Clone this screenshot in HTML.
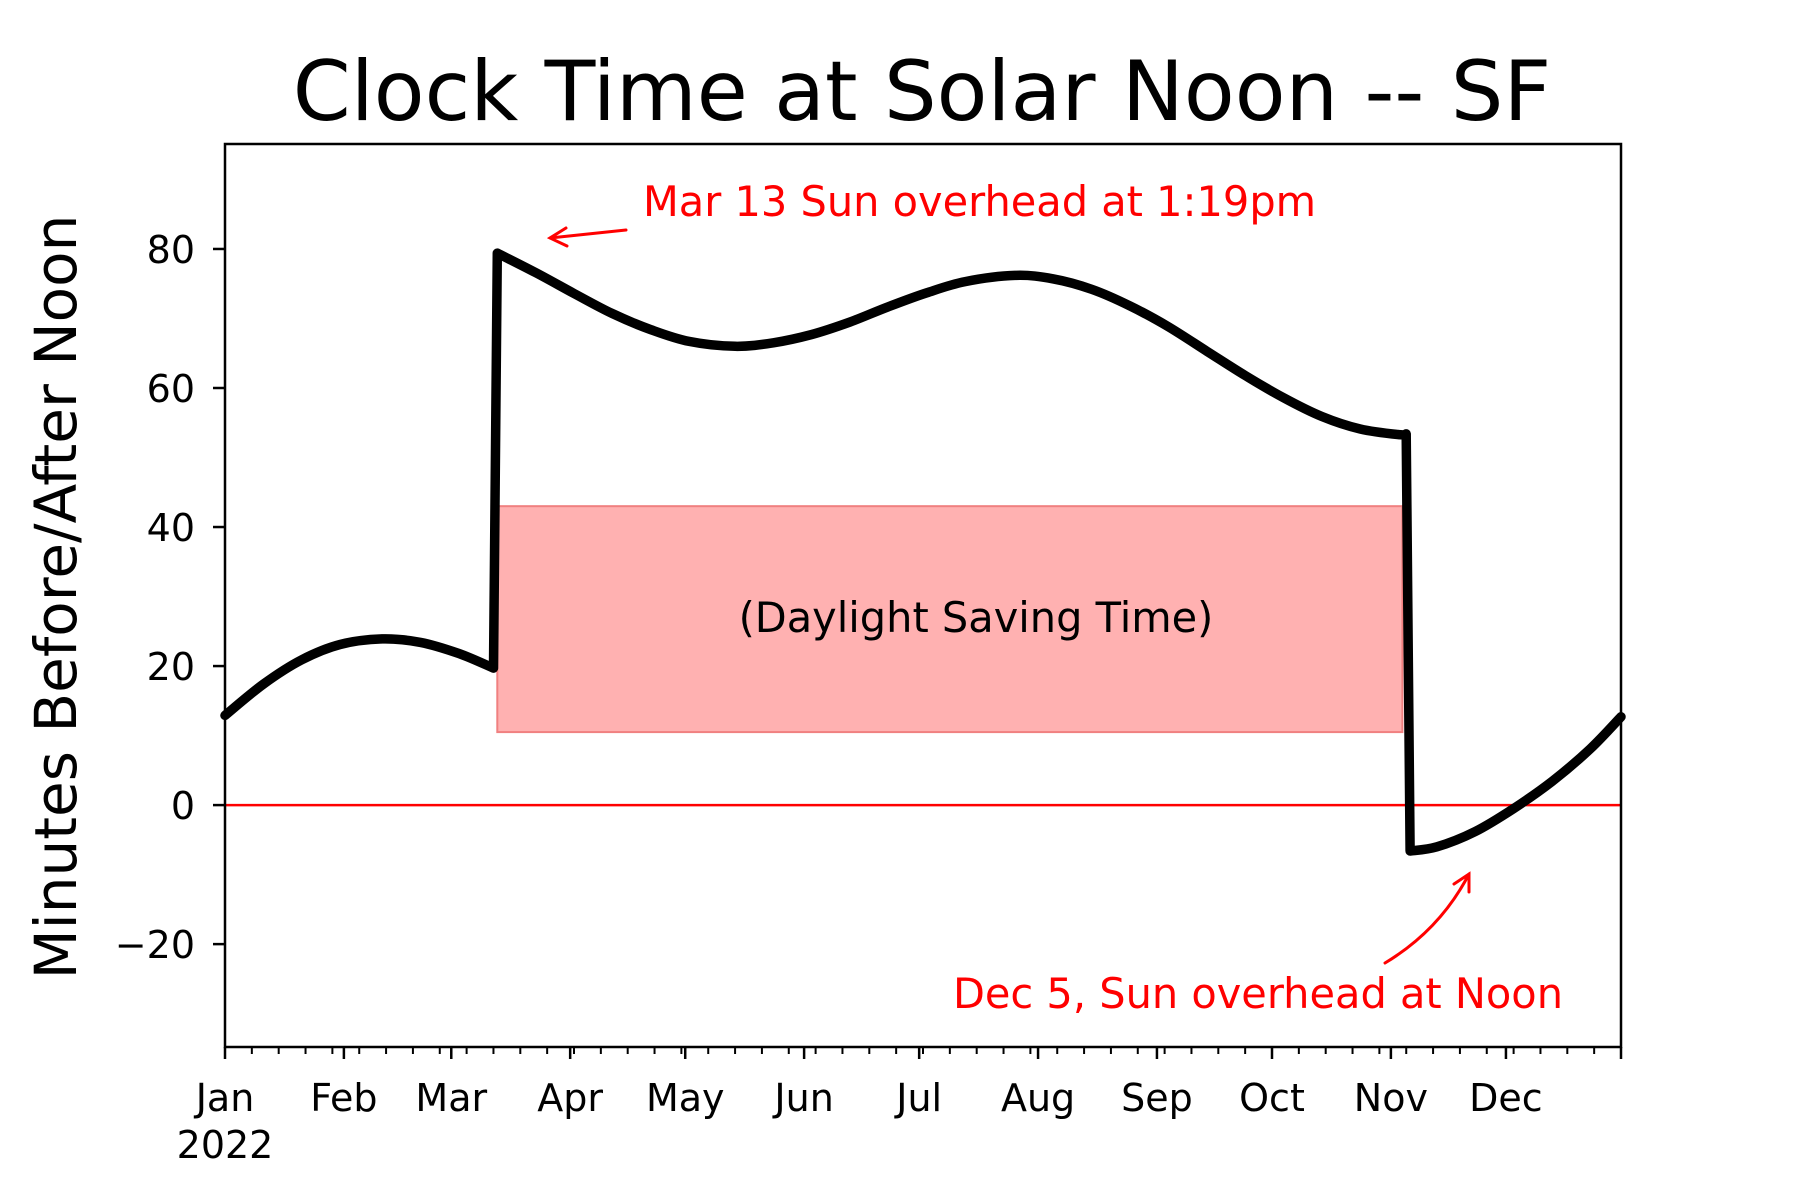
<!DOCTYPE html>
<html><head><meta charset="utf-8"><style>
html,body{margin:0;padding:0;background:#fff}
svg{display:block;font-family:"DejaVu Sans","Liberation Sans",sans-serif}
</style></head><body>
<svg id="chart" width="1800" height="1200" viewBox="0 0 1800 1200">
<text x="922" y="120" font-size="83" text-anchor="middle">Clock Time at Solar Noon -- SF</text>
<text transform="translate(76,597) rotate(-90)" font-size="58" text-anchor="middle">Minutes Before/After Noon</text>
<g id="plot"></g>
</svg>
<script>
const days = [0,10,20,30,41,51,61,70,71,81,91,101,111,121,133,143,153,163,173,183,193,206,216,226,236,246,256,266,276,286,296,306,308,309,316,326,336,346,356,364];
const minutes = [12.9,17.4,20.9,23.1,23.9,23.4,21.8,19.7,79.4,76.6,73.6,70.7,68.4,66.7,66.0,66.5,67.7,69.5,71.7,73.7,75.3,76.2,75.7,74.2,71.8,68.8,65.3,61.8,58.6,55.9,54.1,53.3,53.4,-6.6,-6.0,-3.8,-0.5,3.4,8.1,12.7];
const yTicks = [-20,0,20,40,60,80];
const monthStarts = [0,31,59,90,120,151,181,212,243,273,304,334];
const monthLabels = ["Jan","Feb","Mar","Apr","May","Jun","Jul","Aug","Sep","Oct","Nov","Dec"];
const dstRange = [71,307];
const dstBand = [10.5,43];

const X0=225,X1=1621,Y0=144,Y1=1047,XMIN=0,XMAX=364,YMIN=-34.8,YMAX=95.1;
const xs=d=>X0+(d-XMIN)/(XMAX-XMIN)*(X1-X0);
const ys=v=>Y1-(v-YMIN)/(YMAX-YMIN)*(Y1-Y0);
const NS="http://www.w3.org/2000/svg";
const g=document.getElementById('plot');
function mk(t,a,txt){const e=document.createElementNS(NS,t);for(const k in a)e.setAttribute(k,a[k]);if(txt!==undefined)e.textContent=txt;g.appendChild(e);return e;}

let r=mk('rect',{x:xs(dstRange[0]),y:ys(dstBand[1]),width:xs(dstRange[1])-xs(dstRange[0]),height:ys(dstBand[0])-ys(dstBand[1]),fill:'#ffb1b1',stroke:'#f08080','stroke-width':2});


let dt=mk('text',{x:976,y:632,'font-size':41.5,'text-anchor':'middle'},'(Daylight Saving Time)');



let zl=mk('line',{x1:X0,x2:X1,y1:ys(0),y2:ys(0),stroke:'#ff0000','stroke-width':2.5});



// smooth segments, split at jumps (large value change)
const pts=days.map((v,i)=>[xs(v),ys(minutes[i])]);
let segs=[[pts[0]]];
for(let i=1;i<pts.length;i++){
  if(Math.abs(minutes[i]-minutes[i-1])>30){segs.push([pts[i]]);}
  else segs[segs.length-1].push(pts[i]);
}
let d='M'+pts[0][0].toFixed(1)+' '+pts[0][1].toFixed(1);
segs.forEach((s,si)=>{
  if(si>0) d+='L'+s[0][0].toFixed(1)+' '+s[0][1].toFixed(1);
  for(let i=0;i<s.length-1;i++){
    const p0=s[Math.max(i-1,0)],p1=s[i],p2=s[i+1],p3=s[Math.min(i+2,s.length-1)];
    const c1=[p1[0]+(p2[0]-p0[0])/6,p1[1]+(p2[1]-p0[1])/6];
    const c2=[p2[0]-(p3[0]-p1[0])/6,p2[1]-(p3[1]-p1[1])/6];
    d+='C'+c1[0].toFixed(1)+' '+c1[1].toFixed(1)+' '+c2[0].toFixed(1)+' '+c2[1].toFixed(1)+' '+p2[0].toFixed(1)+' '+p2[1].toFixed(1);
  }
});
let ln=mk('path',{d:d,fill:'none',stroke:'#000','stroke-width':9.5,'stroke-linejoin':'round','stroke-linecap':'round'});



let ax=mk('rect',{x:X0,y:Y0,width:X1-X0,height:Y1-Y0,fill:'none',stroke:'#000','stroke-width':2.5});



yTicks.forEach(v=>{
  let t=mk('line',{x1:X0-12,x2:X0,y1:ys(v),y2:ys(v),stroke:'#000','stroke-width':2.5});
  
  
  let l=mk('text',{x:X0-30,y:ys(v)+14,'font-size':38,'text-anchor':'end'},v<0?'\u2212'+(-v):String(v));
  
  
});
for(let dd=0;dd<=XMAX;dd+=7){
  let t=mk('line',{x1:xs(dd),x2:xs(dd),y1:Y1,y2:Y1+7,stroke:'#000','stroke-width':2});
  
  
}
let te=mk('line',{x1:X1,x2:X1,y1:Y1,y2:Y1+12,stroke:'#000','stroke-width':2.5});


monthStarts.forEach((m,i)=>{
  let t=mk('line',{x1:xs(m),x2:xs(m),y1:Y1,y2:Y1+12,stroke:'#000','stroke-width':2.5});
  
  
  let l=mk('text',{x:xs(m),y:1111,'font-size':38,'text-anchor':'middle'},monthLabels[i]);
  
  
});
let yr=mk('text',{x:xs(0),y:1158,'font-size':38,'text-anchor':'middle'},'2022');



let a1=mk('path',{d:'M626 230 L550 238 M566 228 L550 238 L567 246',fill:'none',stroke:'#ff0000','stroke-width':3,'stroke-linecap':'round'});


let t1=mk('text',{x:643,y:216,'font-size':41.5,fill:'#ff0000'},'Mar 13 Sun overhead at 1:19pm');


let a2=mk('path',{d:'M1385 963 Q1440 930 1469 874 M1454 884 L1469 874 L1469 892',fill:'none',stroke:'#ff0000','stroke-width':3,'stroke-linecap':'round'});


let t2=mk('text',{x:1563,y:1008,'font-size':41.5,fill:'#ff0000','text-anchor':'end'},'Dec 5, Sun overhead at Noon');


</script>
</body></html>
